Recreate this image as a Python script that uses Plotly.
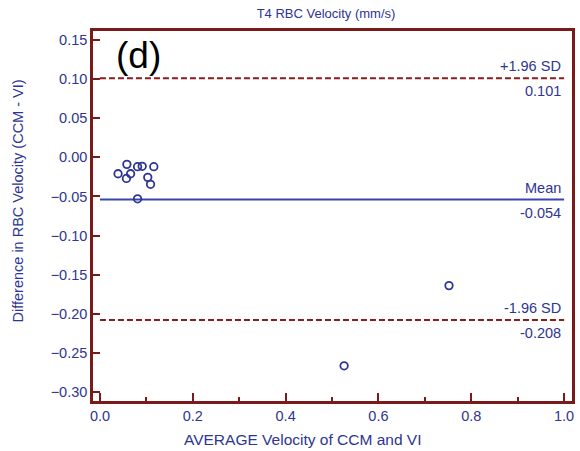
import plotly.graph_objects as go

# Bland-Altman data: mean of the two methods vs. their difference
avg_velocity = [0.039, 0.058, 0.066, 0.057, 0.081, 0.091, 0.116, 0.103, 0.109, 0.081, 0.752, 0.526]
diff_velocity = [-0.021, -0.009, -0.021, -0.027, -0.012, -0.0115, -0.012, -0.0256, -0.0345, -0.053, -0.164, -0.2665]

mean_diff = -0.054
upper_loa = 0.101
lower_loa = -0.208
line_x = [0.0, 1.0]

x_ticks = [0.0, 0.2, 0.4, 0.6, 0.8, 1.0]
y_ticks = [0.15, 0.10, 0.05, 0.0, -0.05, -0.10, -0.15, -0.20, -0.25, -0.30]

NAVY = "#2e3592"
AXIS_RED = "#7a1a1a"
DASH_RED = "#8b1c1c"
MEAN_BLUE = "#3a46b0"
FONT = "Liberation Sans, Arial, sans-serif"

# plot-area geometry in pixels
ML, MR, MT, MB = 93, 5, 31, 50
PW, PH = 580 - ML - MR, 451 - MT - MB

fig = go.Figure()

fig.add_trace(go.Scatter(x=line_x, y=[upper_loa] * 2, mode="lines",
                         line=dict(color=DASH_RED, width=2, dash="6px,3px"),
                         hoverinfo="skip"))
fig.add_trace(go.Scatter(x=line_x, y=[lower_loa] * 2, mode="lines",
                         line=dict(color=DASH_RED, width=2, dash="6px,3px"),
                         hoverinfo="skip"))
fig.add_trace(go.Scatter(x=line_x, y=[mean_diff] * 2, mode="lines",
                         line=dict(color=MEAN_BLUE, width=2),
                         hoverinfo="skip"))
fig.add_trace(go.Scatter(x=avg_velocity, y=diff_velocity, mode="markers",
                         marker=dict(symbol="circle-open", size=7.5, color=NAVY,
                                     line=dict(width=1.8, color=NAVY))))

labels = [
    ("+1.96 SD", upper_loa, "bottom"),
    (f"{upper_loa:.3f}", upper_loa, "top"),
    ("Mean", mean_diff, "bottom"),
    (f"{mean_diff:.3f}", mean_diff, "top"),
    ("-1.96 SD", lower_loa, "bottom"),
    (f"{lower_loa:.3f}", lower_loa, "top"),
]
for text, yv, side in labels:
    fig.add_annotation(x=1.0, y=yv, xref="x", yref="y", text=text, showarrow=False,
                       xanchor="right", yanchor=side, xshift=-1,
                       yshift=2 if side == "bottom" else -3,
                       font=dict(family=FONT, size=14.5, color=NAVY))

# panel letter
fig.add_annotation(x=(114 - ML) / PW, y=(451 - MB - 33) / PH, xref="paper", yref="paper",
                   text="(d)", showarrow=False, xanchor="left", yanchor="top",
                   font=dict(family=FONT, size=37, color="black"))

# axis titles placed as annotations in paper space
fig.add_annotation(x=(304 - ML) / PW, y=-38 / PH, xref="paper", yref="paper",
                   text="AVERAGE Velocity of CCM and VI", showarrow=False,
                   xanchor="center", yanchor="middle",
                   font=dict(family=FONT, size=15.5, color=NAVY))
fig.add_annotation(x=(18 - ML) / PW, y=(451 - MB - 201) / PH, xref="paper", yref="paper",
                   text="Difference in RBC Velocity (CCM - VI)", showarrow=False,
                   textangle=-90, xanchor="center", yanchor="middle",
                   font=dict(family=FONT, size=14.5, color=NAVY))

fig.update_layout(
    width=580, height=451,
    margin=dict(l=ML, r=MR, t=MT, b=MB),
    paper_bgcolor="white", plot_bgcolor="white",
    showlegend=False,
    font=dict(family=FONT, size=14, color=NAVY),
    title=dict(text="T4 RBC Velocity (mm/s)", x=326 / 580, xanchor="center", y=1 - 13 / 451,
               yanchor="middle", font=dict(family=FONT, size=13, color=NAVY)),
)

fig.update_xaxes(
    range=[-0.015, 1.017], tickvals=x_ticks, tickformat=".1f",
    ticks="inside", ticklen=8, tickwidth=2, tickcolor=AXIS_RED,
    minor=dict(ticks="inside", ticklen=4, tickwidth=2, tickcolor=AXIS_RED, dtick=0.1, tick0=0),
    showline=True, linecolor=AXIS_RED, linewidth=2.5, mirror=True,
    showgrid=False, zeroline=False,
    tickfont=dict(family=FONT, size=14.5, color=NAVY),
)
fig.update_yaxes(
    range=[-0.3115, 0.1615], tickvals=y_ticks, tickformat=".2f",
    ticks="inside", ticklen=7, tickwidth=2, tickcolor=AXIS_RED,
    showline=True, linecolor=AXIS_RED, linewidth=2.5, mirror=True,
    showgrid=False, zeroline=False,
    tickfont=dict(family=FONT, size=14.5, color=NAVY),
)

fig.write_html("out.html")
